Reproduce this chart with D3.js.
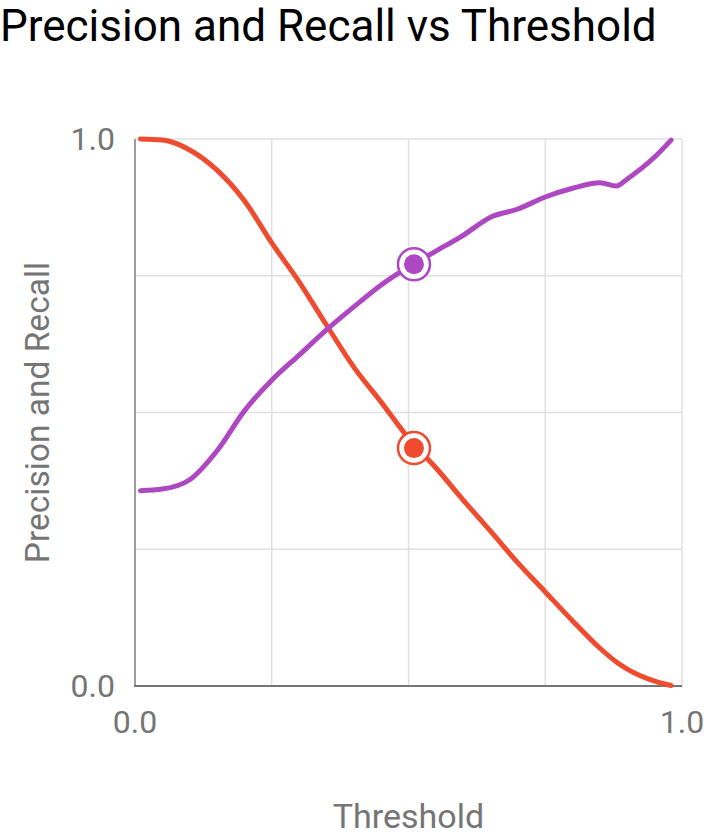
<!DOCTYPE html>
<html>
<head>
<meta charset="utf-8">
<script src="https://cdn.jsdelivr.net/npm/d3@7"></script>
<style>
  html, body { margin: 0; padding: 0; background: #fff; }
  svg { display: block; font-family: Roboto, "Noto Sans", sans-serif; }
</style>
</head>
<body>
<svg id="chart" width="709" height="835"></svg>
<script>
// ---- data ----
const thresholds = [0.01, 0.05, 0.10, 0.15, 0.20, 0.25, 0.30, 0.35, 0.40, 0.45, 0.50, 0.55, 0.60, 0.65, 0.70, 0.75, 0.80, 0.85, 0.88, 0.90, 0.95, 0.98];
const precision  = [0.357, 0.360, 0.377, 0.430, 0.503, 0.559, 0.605, 0.651, 0.693, 0.733, 0.766, 0.795, 0.824, 0.857, 0.872, 0.894, 0.910, 0.920, 0.914, 0.927, 0.967, 0.998];
const recall     = [1.000, 0.998, 0.980, 0.943, 0.887, 0.810, 0.739, 0.660, 0.583, 0.519, 0.453, 0.399, 0.340, 0.283, 0.225, 0.172, 0.119, 0.069, 0.044, 0.031, 0.009, 0.001];
const markerThreshold = 0.51;
const markerPrecision = 0.771;
const markerRecall = 0.435;
const xTickValues = [0, 1];
const yTickValues = [0, 1];
const gridValues = [0.25, 0.5, 0.75, 1];

// ---- layout ----
const svg = d3.select("#chart");
const plotL = 135, plotR = 682, plotT = 139, plotB = 686;
const x = d3.scaleLinear().domain([0, 1]).range([plotL, plotR]);
const y = d3.scaleLinear().domain([0, 1]).range([plotB, plotT]);

const purple = "#ae47c2";
const red = "#ef4b2e";
const grey = "#757575";

// title
svg.append("text")
  .attr("x", 0).attr("y", 41)
  .attr("font-size", 44).attr("fill", "#000")
  .text("Precision and Recall vs Threshold");

// grid
const grid = svg.append("g");
grid.append("g").selectAll("line").data(gridValues).join("line")
  .attr("x1", d => x(d)).attr("x2", d => x(d))
  .attr("y1", plotT).attr("y2", plotB)
  .attr("stroke", "#e0e0e0").attr("stroke-width", 1.5);
grid.append("g").selectAll("line").data(gridValues).join("line")
  .attr("x1", plotL).attr("x2", plotR)
  .attr("y1", d => y(d)).attr("y2", d => y(d))
  .attr("stroke", "#e0e0e0").attr("stroke-width", 1.5);

// axes lines
svg.append("line").attr("x1", plotL).attr("x2", plotL).attr("y1", plotT).attr("y2", plotB)
  .attr("stroke", "#9e9e9e").attr("stroke-width", 2);
svg.append("line").attr("x1", plotL - 1).attr("x2", plotR).attr("y1", plotB).attr("y2", plotB)
  .attr("stroke", "#757575").attr("stroke-width", 2);

// tick labels
const fmt = d3.format(".1f");
svg.append("g").selectAll("text").data(yTickValues).join("text")
  .attr("x", plotL - 20).attr("y", d => y(d))
  .attr("text-anchor", "end").attr("dominant-baseline", "central")
  .attr("font-size", 32).attr("fill", grey)
  .text(fmt);
svg.append("g").selectAll("text").data(xTickValues).join("text")
  .attr("x", d => x(d)).attr("y", plotB + 36)
  .attr("text-anchor", "middle").attr("dominant-baseline", "central")
  .attr("font-size", 32).attr("fill", grey)
  .text(fmt);

// axis titles
svg.append("text")
  .attr("x", (plotL + plotR) / 2).attr("y", 828)
  .attr("text-anchor", "middle")
  .attr("font-size", 34).attr("fill", grey)
  .text("Threshold");
svg.append("text")
  .attr("transform", `translate(37, ${(plotT + plotB) / 2}) rotate(-90)`)
  .attr("text-anchor", "middle").attr("dominant-baseline", "central")
  .attr("font-size", 33.5).attr("fill", grey)
  .text("Precision and Recall");

// lines
const line = vals => d3.line()
  .x((d, i) => x(thresholds[i]))
  .y(d => y(d))
  .curve(d3.curveMonotoneX)(vals);

svg.append("path").attr("d", line(recall))
  .attr("fill", "none").attr("stroke", red).attr("stroke-width", 5)
  .attr("stroke-linecap", "round").attr("stroke-linejoin", "round");
svg.append("path").attr("d", line(precision))
  .attr("fill", "none").attr("stroke", purple).attr("stroke-width", 5)
  .attr("stroke-linecap", "round").attr("stroke-linejoin", "round");

// markers
const markers = [
  { v: markerPrecision, c: purple },
  { v: markerRecall, c: red }
];
const mg = svg.append("g");
markers.forEach(m => {
  mg.append("circle").attr("cx", x(markerThreshold)).attr("cy", y(m.v)).attr("r", 16)
    .attr("fill", "#fff").attr("stroke", m.c).attr("stroke-width", 2.5);
  mg.append("circle").attr("cx", x(markerThreshold)).attr("cy", y(m.v)).attr("r", 10)
    .attr("fill", m.c);
});
</script>
</body>
</html>
